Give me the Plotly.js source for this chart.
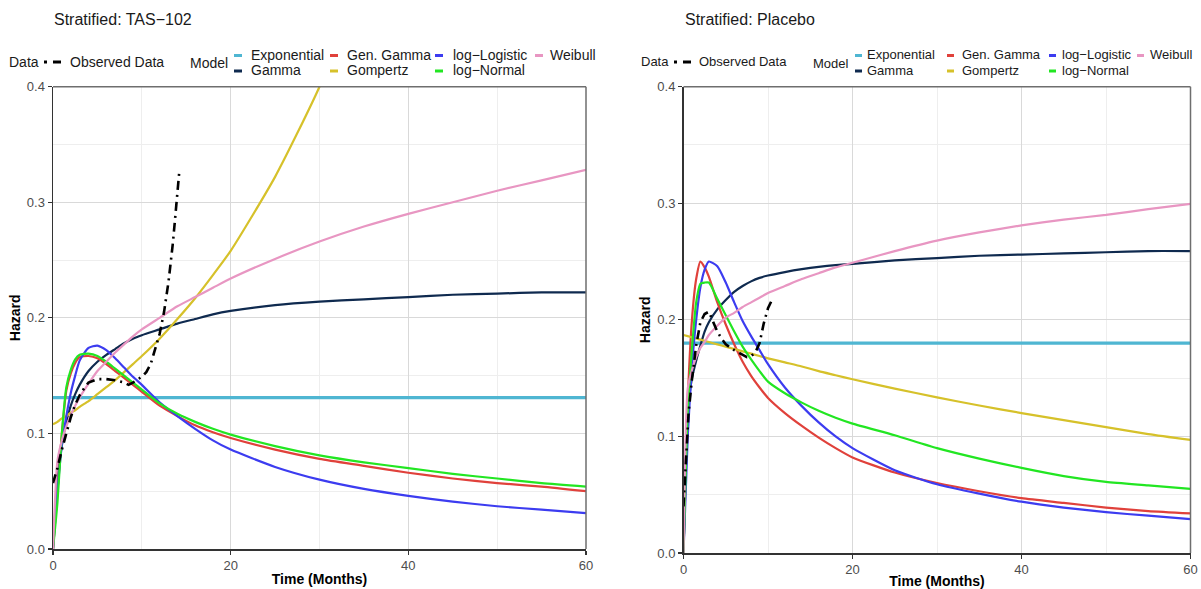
<!DOCTYPE html>
<html>
<head>
<meta charset="utf-8">
<script src="https://cdn.plot.ly/plotly-3.0.1.min.js"></script>
<style>html,body{margin:0;padding:0;background:#fff;}#chart{width:1201px;height:589px;}</style>
</head>
<body>
<div id="chart"></div>
<script>
// ---------------- DATA ----------------
const months = [0, 0.5, 1, 1.5, 2, 2.5, 3, 4, 5, 6, 7, 8, 9, 10, 12, 14, 16, 18, 20, 25, 30, 35, 40, 45, 50, 55, 60];
const expTime = [0, 60];

// Stratified: TAS-102
const tasExponential = [0.131, 0.131];
const tasGamma = [0, 0.06, 0.09, 0.11, 0.124, 0.134, 0.142, 0.154, 0.162, 0.168, 0.173, 0.178, 0.182, 0.185, 0.19, 0.195, 0.199, 0.203, 0.206, 0.211, 0.214, 0.216, 0.218, 0.22, 0.221, 0.222, 0.222];
const tasGenGamma = [0, 0.05, 0.1, 0.137, 0.152, 0.161, 0.166, 0.167, 0.165, 0.16, 0.154, 0.148, 0.142, 0.136, 0.124, 0.115, 0.107, 0.101, 0.096, 0.086, 0.078, 0.072, 0.066, 0.061, 0.057, 0.054, 0.05];
const tasGompertz = [0.108, 0.110, 0.113, 0.115, 0.118, 0.12, 0.123, 0.128, 0.134, 0.14, 0.146, 0.153, 0.16, 0.167, 0.182, 0.199, 0.217, 0.237, 0.258, 0.322, 0.4, 0.497];
const tasLogLogistic = [0, 0.05, 0.09, 0.115, 0.135, 0.15, 0.163, 0.174, 0.176, 0.172, 0.165, 0.157, 0.149, 0.142, 0.127, 0.115, 0.104, 0.094, 0.086, 0.071, 0.06, 0.052, 0.046, 0.041, 0.037, 0.034, 0.031];
const tasLogNormal = [0, 0.04, 0.1, 0.14, 0.155, 0.164, 0.168, 0.169, 0.167, 0.162, 0.156, 0.15, 0.144, 0.138, 0.126, 0.117, 0.11, 0.104, 0.099, 0.089, 0.081, 0.075, 0.07, 0.065, 0.061, 0.057, 0.054];
const tasWeibull = [0, 0.076, 0.094, 0.106, 0.116, 0.124, 0.131, 0.143, 0.154, 0.162, 0.17, 0.177, 0.184, 0.19, 0.2, 0.21, 0.218, 0.226, 0.234, 0.251, 0.266, 0.279, 0.29, 0.3, 0.31, 0.319, 0.328];
const tasObsTime = [0, 0.5, 1, 1.5, 2, 2.5, 3, 3.5, 4, 5, 6, 7, 8, 8.5, 9, 10, 10.5, 11, 11.5, 12, 12.5, 13, 13.5, 14, 14.2];
const tasObserved = [0.057, 0.07, 0.086, 0.1, 0.114, 0.125, 0.133, 0.139, 0.144, 0.147, 0.147, 0.146, 0.144, 0.142, 0.144, 0.149, 0.153, 0.16, 0.172, 0.186, 0.205, 0.231, 0.265, 0.313, 0.325];

// Stratified: Placebo
const pboExponential = [0.18, 0.18];
const pboGamma = [0, 0.12, 0.15, 0.165, 0.178, 0.19, 0.198, 0.209, 0.217, 0.224, 0.229, 0.233, 0.236, 0.238, 0.241, 0.2435, 0.2455, 0.247, 0.248, 0.251, 0.253, 0.255, 0.256, 0.257, 0.258, 0.259, 0.259];
const pboGenGamma = [0, 0.13, 0.2, 0.235, 0.25, 0.245, 0.237, 0.215, 0.196, 0.179, 0.164, 0.152, 0.142, 0.133, 0.12, 0.109, 0.099, 0.09, 0.082, 0.069, 0.06, 0.053, 0.047, 0.043, 0.039, 0.036, 0.034];
const pboGompertz = [0.187, 0.186, 0.185, 0.184, 0.183, 0.182, 0.181, 0.179, 0.177, 0.175, 0.173, 0.171, 0.169, 0.167, 0.1635, 0.16, 0.156, 0.1525, 0.149, 0.141, 0.1335, 0.1265, 0.12, 0.114, 0.108, 0.102, 0.097];
const pboLogLogistic = [0, 0.1, 0.16, 0.2, 0.228, 0.243, 0.25, 0.246, 0.232, 0.215, 0.199, 0.186, 0.174, 0.162, 0.142, 0.126, 0.112, 0.1, 0.09, 0.071, 0.059, 0.051, 0.044, 0.039, 0.035, 0.032, 0.029];
const pboLogNormal = [0, 0.12, 0.175, 0.215, 0.231, 0.232, 0.232, 0.218, 0.204, 0.19, 0.177, 0.166, 0.156, 0.147, 0.137, 0.129, 0.122, 0.116, 0.111, 0.101, 0.09, 0.081, 0.073, 0.066, 0.061, 0.058, 0.055];
const pboWeibull = [0, 0.141, 0.157, 0.168, 0.176, 0.181, 0.187, 0.195, 0.202, 0.206, 0.211, 0.215, 0.219, 0.223, 0.229, 0.235, 0.24, 0.245, 0.249, 0.259, 0.268, 0.275, 0.281, 0.286, 0.29, 0.295, 0.2995];
const pboObsTime = [0, 0.3, 0.6, 1, 1.5, 2, 2.5, 3, 3.5, 4, 4.5, 5, 6, 7, 7.5, 8, 8.5, 9, 9.5, 10, 10.6];
const pboObserved = [0.04, 0.08, 0.12, 0.149, 0.178, 0.198, 0.205, 0.207, 0.198, 0.19, 0.184, 0.179, 0.174, 0.17, 0.168, 0.169, 0.172, 0.18, 0.197, 0.21, 0.219];

const panelTitles = ["Stratified: TAS\u2212102", "Stratified: Placebo"];
const modelNames = ["Exponential", "Gamma", "Gen. Gamma", "Gompertz", "log\u2212Logistic", "log\u2212Normal", "Weibull"];
const modelColors = ["#4fb6d2", "#0f2a4f", "#e0413b", "#d6c12a", "#3c3cf0", "#22e622", "#e896c2"];
const xTicks = [0, 20, 40, 60];
const yTicks = [0, 0.1, 0.2, 0.3, 0.4];

// ---------------- BUILD ----------------
const W = 1201, H = 589;
const px = v => v / W;
const py = v => 1 - v / H;
const FONT = "Liberation Sans, Arial, sans-serif";

const panels = [
  {xa: "x", ya: "y", models: [tasExponential, tasGamma, tasGenGamma, tasGompertz, tasLogLogistic, tasLogNormal, tasWeibull], obsT: tasObsTime, obs: tasObserved},
  {xa: "x2", ya: "y2", models: [pboExponential, pboGamma, pboGenGamma, pboGompertz, pboLogLogistic, pboLogNormal, pboWeibull], obsT: pboObsTime, obs: pboObserved}
];

const traces = [];
panels.forEach(p => {
  p.models.forEach((vals, i) => {
    const x = i === 0 ? expTime : months.slice(0, vals.length);
    traces.push({
      type: "scatter", mode: "lines", name: modelNames[i], x: x, y: vals,
      xaxis: p.xa, yaxis: p.ya, showlegend: false, hoverinfo: "x+y+name",
      line: {color: modelColors[i], width: i === 0 ? 3.2 : 2.2, shape: i === 0 ? "linear" : "spline", smoothing: 0.6}
    });
  });
  traces.push({
    type: "scatter", mode: "lines", name: "Observed Data", x: p.obsT, y: p.obs,
    xaxis: p.xa, yaxis: p.ya, showlegend: false,
    line: {color: "#000000", width: 2.6, dash: "9px,5px,2px,5px"}
  });
});

function xAxis(domain, anchor) {
  return {
    domain: domain, anchor: anchor, range: [0, 60], tickvals: xTicks, ticktext: xTicks.map(String),
    showgrid: true, gridcolor: "#d9d9d9", gridwidth: 1,
    minor: {dtick: 10, tick0: 0, showgrid: true, gridcolor: "#eeeeee", gridwidth: 1},
    zeroline: false, showline: true, linecolor: "#333333", linewidth: 1.5,
    ticks: "outside", ticklen: 4, tickcolor: "#333333", tickwidth: 1.2,
    tickfont: {family: FONT, size: 13, color: "#4d4d4d"},
    title: {text: "Time (Months)", standoff: 2, font: {family: FONT, size: 14, color: "#000", weight: "bold"}},
    fixedrange: true
  };
}
function yAxis(domain, anchor) {
  return {
    domain: domain, anchor: anchor, range: [0, 0.4], tickvals: yTicks, tickformat: ".1f",
    showgrid: true, gridcolor: "#d9d9d9", gridwidth: 1,
    minor: {dtick: 0.05, tick0: 0, showgrid: true, gridcolor: "#eeeeee", gridwidth: 1},
    zeroline: false, showline: true, linecolor: "#333333", linewidth: 1.5,
    ticks: "outside", ticklen: 4, tickcolor: "#333333", tickwidth: 1.2,
    tickfont: {family: FONT, size: 13, color: "#4d4d4d"},
    title: {text: "Hazard", standoff: 3, font: {family: FONT, size: 14, color: "#000", weight: "bold"}},
    fixedrange: true
  };
}

const shapes = [];
const annotations = [];

// panel border (top & right)
[["x", "y"], ["x2", "y2"]].forEach(([xa, ya]) => {
  shapes.push({type: "line", xref: xa + " domain", yref: ya + " domain", x0: 0, x1: 1, y0: 1, y1: 1, line: {color: "#6e6e6e", width: 1.5}});
  shapes.push({type: "line", xref: xa + " domain", yref: ya + " domain", x0: 1, x1: 1, y0: 0, y1: 1, line: {color: "#6e6e6e", width: 1.5}});
});

function text(t, x, y, size, anchor) {
  annotations.push({text: t, xref: "paper", yref: "paper", x: px(x), y: py(y), xanchor: anchor || "left", yanchor: "middle",
    showarrow: false, font: {family: FONT, size: size, color: "#1a1a1a"}});
}
function swatch(x0, x1, y, color, width) {
  shapes.push({type: "line", xref: "paper", yref: "paper", x0: px(x0), x1: px(x1), y0: py(y), y1: py(y), line: {color: color, width: width}});
}

// Titles
text(panelTitles[0], 52, 20, 16);
text(panelTitles[1], 683, 20, 16);

// Legends
const legendSpecs = [
  {size: 14, data: 7, dsw: [44, 47, 53, 61], obs: 68, model: 188,
   cols: [[234, 242, 249], [330, 338, 345], [435, 443, 451], [535, 543, 548]]},
  {size: 13, data: 639, dsw: [674, 677, 683, 691], obs: 697, model: 811,
   cols: [[855, 862, 865], [947, 954, 960], [1049, 1056, 1060], [1137, 1144, 1148]]}
];
// column-major order of models in legend
const legendOrder = [[0, 1], [2, 3], [4, 5], [6]];
legendSpecs.forEach(s => {
  text("Data", s.data, 61.5, s.size);
  swatch(s.dsw[0], s.dsw[1], 62, "#000", 3);
  swatch(s.dsw[2], s.dsw[3], 62, "#000", 3);
  text("Observed Data", s.obs, 61.5, s.size);
  text("Model", s.model, 63.5, s.size);
  legendOrder.forEach((col, ci) => {
    col.forEach((mi, ri) => {
      const y = ri === 0 ? 55.5 : 71;
      const c = s.cols[ci];
      swatch(c[0], c[1], y, modelColors[mi], 3);
      text(modelNames[mi], c[2], y - 0.5, s.size);
    });
  });
});

const layout = {
  width: W, height: H,
  margin: {l: 0, r: 0, t: 0, b: 0},
  paper_bgcolor: "#ffffff", plot_bgcolor: "#ffffff",
  showlegend: false,
  font: {family: FONT},
  xaxis: xAxis([px(53), px(586)], "y"),
  yaxis: yAxis([py(549), py(86.7)], "x"),
  xaxis2: xAxis([px(683.5), px(1190.5)], "y2"),
  yaxis2: yAxis([py(553), py(86.7)], "x2"),
  shapes: shapes,
  annotations: annotations
};

Plotly.newPlot("chart", traces, layout, {displayModeBar: false, staticPlot: true});
</script>
</body>
</html>
